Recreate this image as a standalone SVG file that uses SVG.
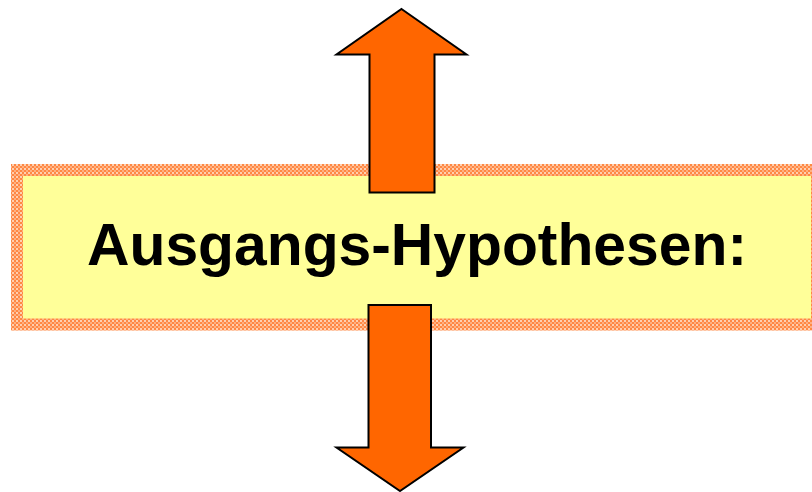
<svg xmlns="http://www.w3.org/2000/svg" width="812" height="492" viewBox="0 0 812 492">
<defs>
<pattern id="chk" width="4" height="4" patternUnits="userSpaceOnUse">
<rect width="4" height="4" fill="#FF8844"/>
<rect x="0" y="0" width="2" height="2" fill="#FFD0B0"/>
<rect x="2" y="2" width="2" height="2" fill="#FFB080"/>
</pattern>
<style>
.arrow{fill:#FF6600;stroke:#000;stroke-width:2;stroke-linejoin:miter}
.lbl{font-family:"Liberation Sans",Arial,sans-serif;font-weight:bold;font-size:59px;fill:#000}
</style>
</defs>
<rect width="812" height="492" fill="#fff"/>
<g id="box">
<rect x="17" y="170" width="800" height="154.5" fill="#FFFF99" stroke="url(#chk)" stroke-width="12"/>
<text class="lbl" x="417" y="265" text-anchor="middle" textLength="660" lengthAdjust="spacingAndGlyphs">Ausgangs-Hypothesen:</text>
</g>
<g id="connectors">
<path class="arrow" d="M401.5,9 L466.5,54.5 L434.5,54.5 L434.5,192.5 L369.5,192.5 L369.5,54.5 L336.5,54.5 Z"/>
<path class="arrow" d="M368.5,305 L431,305 L431,447.5 L463.5,447.5 L400,491 L336.5,447.5 L368.5,447.5 Z"/>
</g>
</svg>
